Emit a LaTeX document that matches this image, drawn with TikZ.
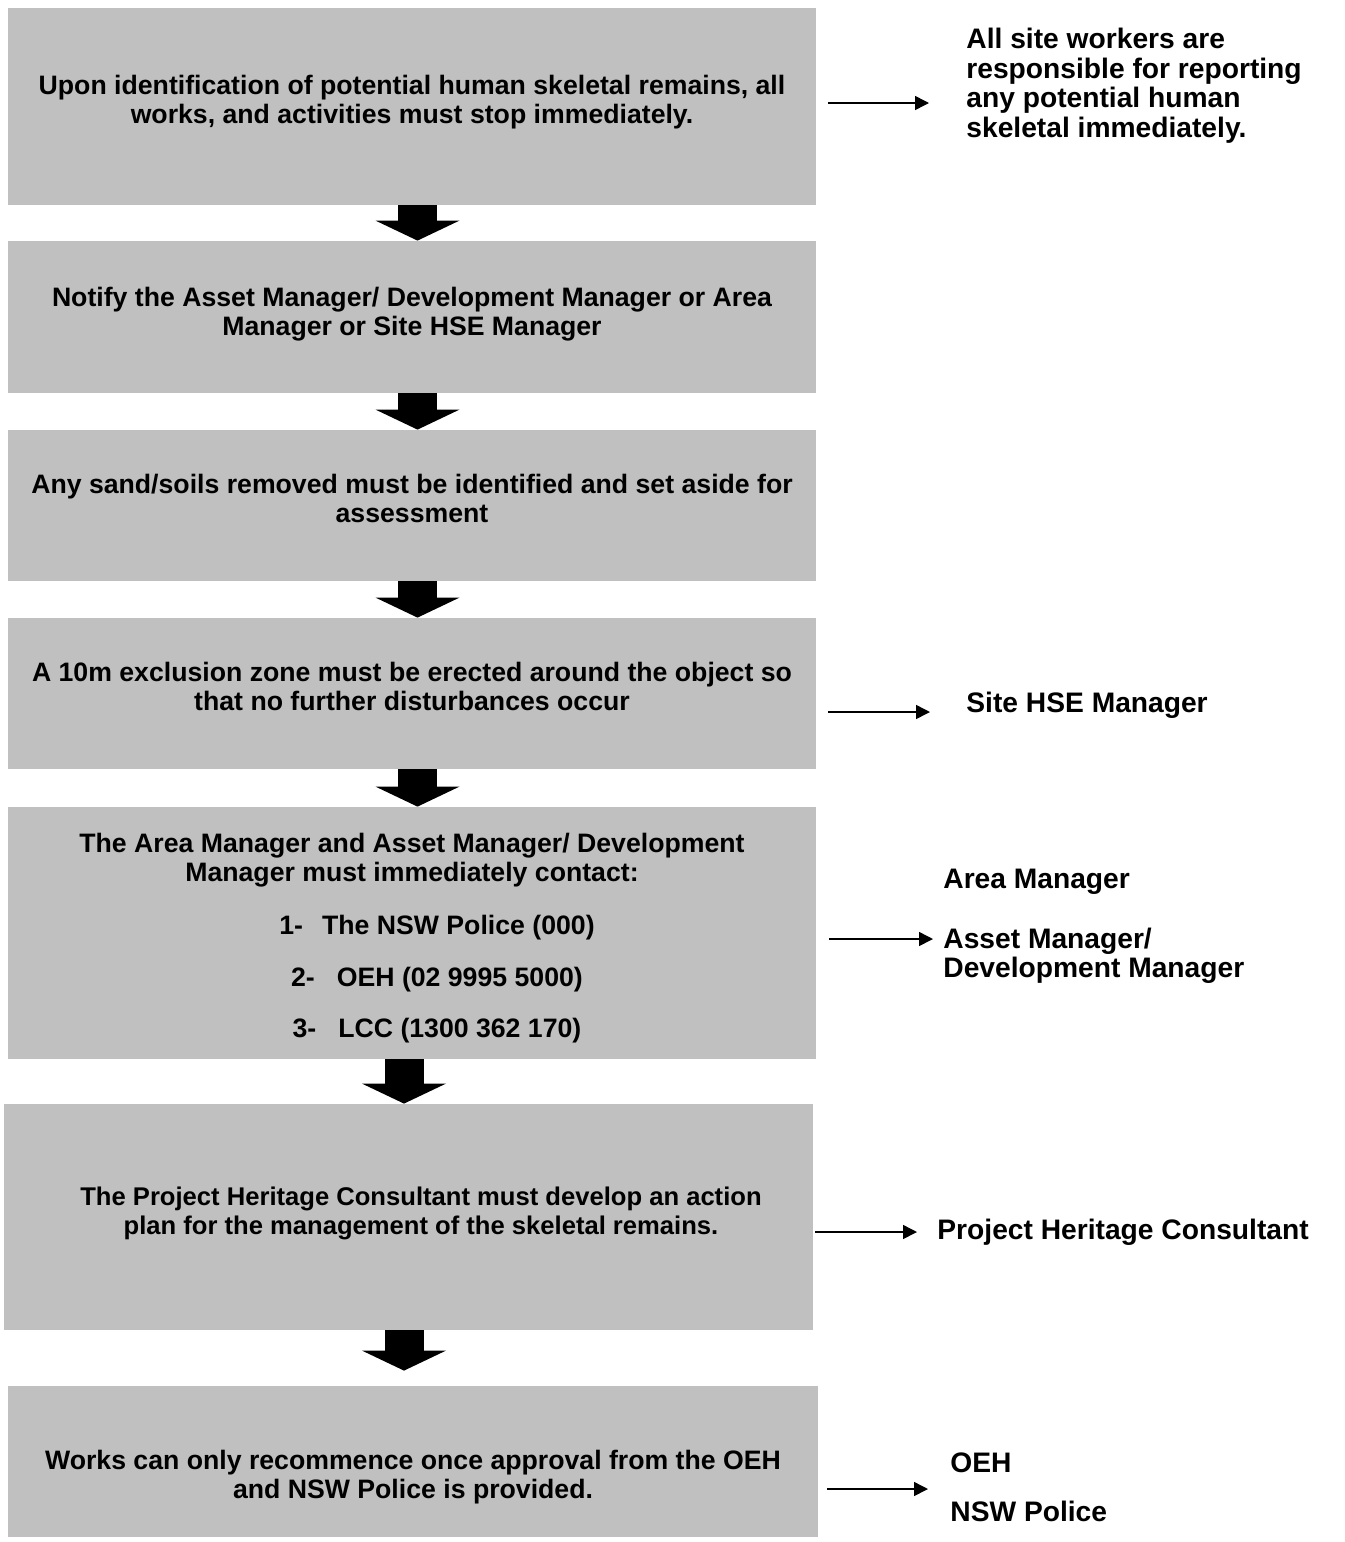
\documentclass[tikz,border=0pt]{standalone}
\usepackage{fontspec}
\setmainfont{Liberation Sans}
\usetikzlibrary{arrows.meta}

\begin{document}
\begin{tikzpicture}[x=0.5pt, y=-0.5pt,
    stage/.style={fill={rgb,255:red,192;green,192;blue,192}, inner sep=0pt, minimum width=404pt},
    stagetext/.style={font=\fontsize{13.33}{14.5}\selectfont\bfseries, align=center, inner sep=0pt},
    sidetext/.style={font=\fontsize{14.1}{14.75}\selectfont\bfseries, align=left, inner sep=0pt},
    bigarrow/.style={line width=19.5pt, -{Triangle[width=42pt, length=10pt, line width=0pt]}},
    pointer/.style={line width=0.75pt, -{Triangle[width=7pt, length=7pt]}}]

     \useasboundingbox (0, 0) rectangle (1344, 1542);

     % grey stage boxes
     \node (b1) at (412, 106.5) [stage, minimum height=98.5pt] {};
     \node (b2) at (412, 317) [stage, minimum height=76pt] {};
     \node (b3) at (412, 505.5) [stage, minimum height=75.5pt] {};
     \node (b4) at (412, 693.5) [stage, minimum height=75.5pt] {};
     \node (b5) at (412, 933) [stage, minimum height=126pt] {};
     \node (b6) at (408.5, 1217) [stage, minimum width=404.5pt, minimum height=113pt] {};
     \node (b7) at (413, 1461.5) [stage, minimum width=405pt, minimum height=75.5pt] {};

     \node (t1) at (412, 102) [stagetext] {Upon identification of potential human skeletal remains, all\\works, and activities must stop immediately.};
     \node (t2) at (412, 314) [stagetext] {Notify the Asset Manager/ Development Manager or Area\\Manager or Site HSE Manager};
     \node (t3) at (412, 498.5) [stagetext] {Any sand/soils removed must be identified and set aside for\\assessment};
     \node (t4) at (412, 686) [stagetext] {A 10m exclusion zone must be erected around the object so\\that no further disturbances occur};
     \node (t5) at (412, 938) [stagetext] {The Area Manager and Asset Manager/ Development\\Manager must immediately contact:\\[12pt]
          \hspace*{25pt}1-\hspace{9.5pt}The NSW Police (000)\\[11.5pt]
          \hspace*{25pt}2-\hspace{11pt}OEH (02 9995 5000)\\[11pt]
          \hspace*{25pt}3-\hspace{11pt}LCC (1300 362 170)};
     \node (t6) at (421, 1213) [stagetext, font=\fontsize{12.8}{14.5}\selectfont\bfseries] {The Project Heritage Consultant must develop an action\\plan for the management of the skeletal remains.};
     \node (t7) at (413, 1477) [stagetext] {Works can only recommence once approval from the OEH\\and NSW Police is provided.};

     % who is responsible
     \node (r1) at (966, 28) [sidetext, anchor=north west] {All site workers are\\responsible for reporting\\any potential human\\skeletal immediately.};
     \node (r2) at (966, 712) [sidetext, anchor=base west] {Site HSE Manager};
     \node (r3) at (943, 869) [sidetext, anchor=north west] {Area Manager\\[15pt]Asset Manager/\\Development Manager};
     \node (r4) at (937, 1239) [sidetext, anchor=base west] {Project Heritage Consultant};
     \node (r5) at (950, 1452) [sidetext, anchor=north west] {OEH\\[10pt]NSW Police};

     \coordinate (ax) at (417.5, 0);
     \coordinate (bx) at (404, 0);
     \coordinate (e1) at (929, 103);
     \coordinate (e2) at (930, 712);
     \coordinate (e3) at (933, 939);
     \coordinate (e4) at (917, 1232);
     \coordinate (e5) at (928, 1489);

     \draw [bigarrow] (b1.south -| ax) -- (b2.north -| ax);
     \draw [bigarrow] (b2.south -| ax) -- (b3.north -| ax);
     \draw [bigarrow] (b3.south -| ax) -- (b4.north -| ax);
     \draw [bigarrow] (b4.south -| ax) -- (b5.north -| ax);
     \draw [bigarrow] (b5.south -| bx) -- (b6.north -| bx);
     \draw [bigarrow, shorten >=7.5pt] (b6.south -| bx) -- (b7.north -| bx);

     \draw [pointer, shorten <=6pt] (b1.east |- e1) -- (e1);
     \draw [pointer, shorten <=6pt] (b4.east |- e2) -- (e2);
     \draw [pointer, shorten <=6.5pt] (b5.east |- e3) -- (e3);
     \draw [pointer, shorten <=1pt] (b6.east |- e4) -- (e4);
     \draw [pointer, shorten <=4.5pt] (b7.east |- e5) -- (e5);

 \end{tikzpicture}
\end{document}
